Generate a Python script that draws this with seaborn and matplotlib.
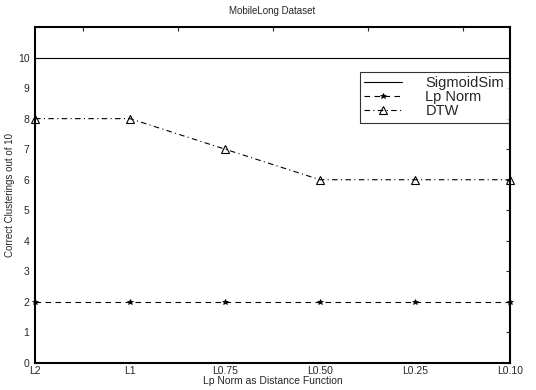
import matplotlib
matplotlib.use("Agg")
import matplotlib.pyplot as plt
import seaborn as sns
import pandas as pd
import numpy as np

categories = ["L2", "L1", "L0.75", "L0.50", "L0.25", "L0.10"]
sigmoid_sim = [10, 10, 10, 10, 10, 10]
lp_norm = [2, 2, 2, 2, 2, 2]
dtw = [8, 8, 7, 6, 6, 6]

sns.set_theme(style="white")
plt.rcParams['font.family'] = ['Liberation Sans', 'DejaVu Sans']

x = np.arange(1, len(categories) + 1)
df = pd.DataFrame({"x": np.tile(x, 3),
                   "y": sigmoid_sim + lp_norm + dtw,
                   "series": ["SigmoidSim"] * 6 + ["Lp Norm"] * 6 + ["DTW"] * 6})

fig = plt.figure(figsize=(5.36, 3.9), dpi=100)
ax = fig.add_axes([35/536, 27/390, 475/536, 336/390])

styles = {"SigmoidSim": dict(linestyle="-", marker=None),
          "Lp Norm": dict(linestyle=(0, (5, 4)), marker="*", markersize=4,
                          markerfacecolor="black", markeredgecolor="black",
                          markeredgewidth=0.5),
          "DTW": dict(linestyle=(0, (5, 3, 1, 3)), marker="^", markersize=6,
                      markerfacecolor="none", markeredgecolor="black",
                      markeredgewidth=0.8)}
for name in ["SigmoidSim", "Lp Norm", "DTW"]:
    sub = df[df.series == name]
    sns.lineplot(data=sub, x="x", y="y", ax=ax, color="black", linewidth=0.8,
                 label=name, clip_on=False, **styles[name])

ax.set_xlim(1, 6)
ax.set_ylim(0, 11)
ax.set_xticks(x)
ax.set_xticklabels(categories)
ax.set_yticks(range(0, 11))
ax.tick_params(axis="both", labelsize=7.5, direction="in", length=3, width=0.8,
               top=False, right=True)
ax.tick_params(axis="x", pad=2)
ax.tick_params(axis="y", pad=4)
ax.set_xticks(np.arange(1, 6.01, 0.5), minor=True)
ax.tick_params(axis="x", which="minor", direction="in", length=3, width=0.8,
               top=True, bottom=False)
ax.set_xlabel("Lp Norm as Distance Function", fontsize=7.5, labelpad=0)
ax.set_ylabel("Correct Clusterings out of 10", fontsize=7, labelpad=2)
ax.set_title("MobileLong Dataset", fontsize=7, pad=9)
for s in ax.spines.values():
    s.set_linewidth(1.5)
    s.set_color("black")

leg = ax.legend(loc="upper right", bbox_to_anchor=(0.997, 0.866), fontsize=10.5,
                frameon=True, fancybox=False, edgecolor="black",
                handlelength=2.6, borderpad=0.3, labelspacing=0.0, handletextpad=1.6,
                borderaxespad=0)
leg.get_frame().set_linewidth(0.8)

fig.savefig("out.png", dpi=100)
